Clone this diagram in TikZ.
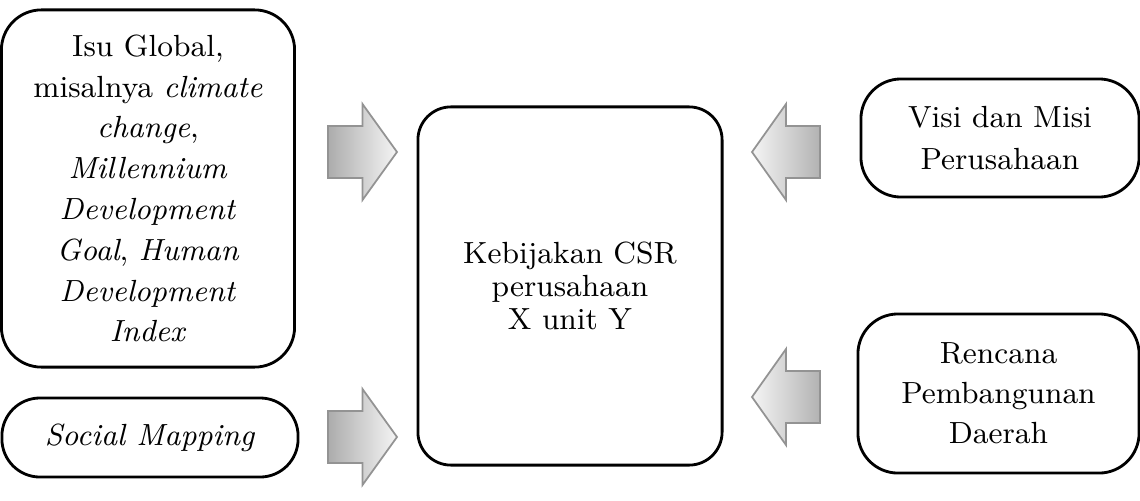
\documentclass[tikz,border=0pt]{standalone}
\usetikzlibrary{positioning}

\tikzset{
  kotak/.style={draw, line width=0.8pt, rounded corners=0.4cm, align=center, inner sep=0pt},
  panah/.style={draw=gray!85, line width=0.5pt},
  panahkanan/.pic={
    \draw[panah, left color=gray!65, right color=gray!8]
      (-34.5,-26) -- (0,-26) -- (0,-48) -- (34.5,0) -- (0,48) -- (0,26) -- (-34.5,26) -- cycle;
  },
  panahkiri/.pic={
    \draw[panah, left color=gray!8, right color=gray!60]
      (34,-26) -- (0,-26) -- (0,-48) -- (-34,0) -- (0,48) -- (0,26) -- (34,26) -- cycle;
  }
}

\begin{document}
\begin{tikzpicture}[x=0.01cm, y=-0.01cm]
\useasboundingbox (0,0) rectangle (1140,500);

% kotak kiri
\node[kotak, minimum width=2.93cm, minimum height=3.57cm, font=\fontsize{8.7}{11.6}\selectfont]
  (isu) at (148,188.5)
  {Isu Global,\\ misalnya \textit{climate}\\ \textit{change},\\ \textit{Millennium}\\
   \textit{Development}\\ \textit{Goal}, \textit{Human}\\ \textit{Development}\\ \textit{Index}};
\node[kotak, rounded corners=0.38cm, minimum width=2.96cm, minimum height=0.79cm, font=\fontsize{8.7}{11.6}\selectfont]
  (sosial) at (150,437.5) {\textit{Social Mapping}};

% kotak tengah
\node[kotak, rounded corners=0.33cm, minimum width=3.04cm, minimum height=3.58cm, font=\fontsize{8.7}{9.4}\selectfont]
  (csr) at (570,286) {Kebijakan CSR\\ perusahaan\\ X unit Y};

% kotak kanan
\node[kotak, minimum width=2.78cm, minimum height=1.18cm, font=\fontsize{8.7}{12}\selectfont]
  (visi) at (1000,138) {Visi dan Misi\\ Perusahaan};
\node[kotak, minimum width=2.81cm, minimum height=1.59cm, font=\fontsize{8.7}{11.4}\selectfont]
  (rencana) at (998.5,393.5) {Rencana\\ Pembangunan\\ Daerah};

% panah
\pic (pisu) at (362.5,152) {panahkanan};
\pic (psosial) at (362.5,437) {panahkanan};
\pic (pvisi) at (786,152) {panahkiri};
\pic (prencana) at (786,397) {panahkiri};
\end{tikzpicture}
\end{document}
